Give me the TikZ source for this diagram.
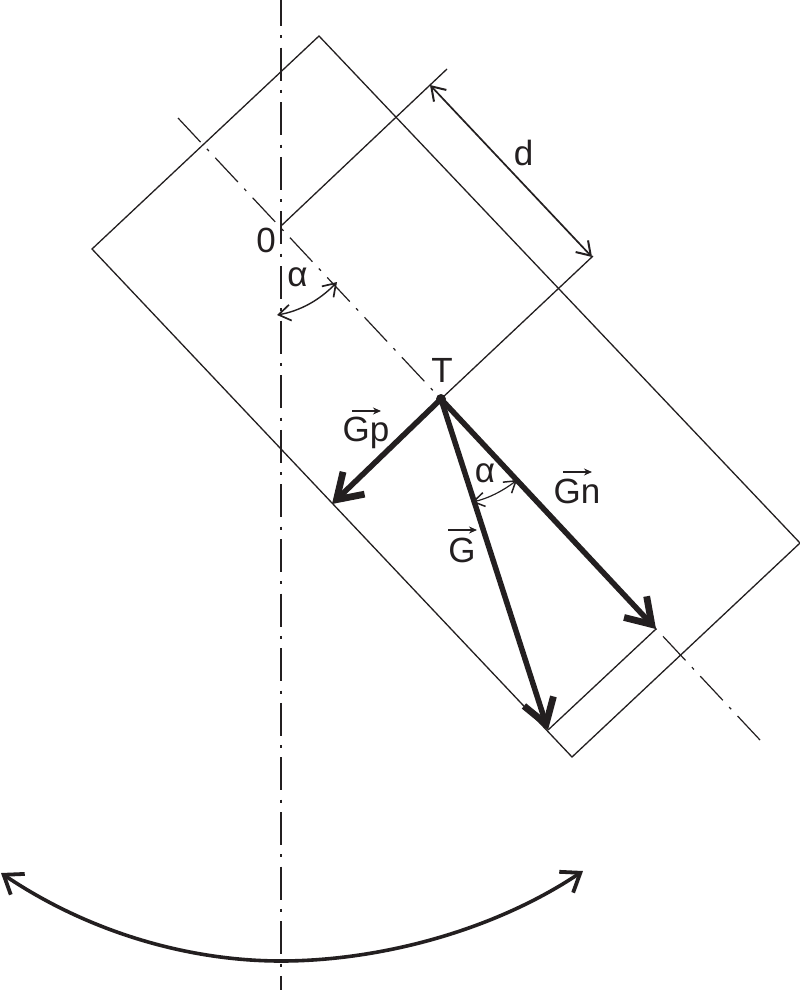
\documentclass[tikz,border=0pt]{standalone}
\usepackage{fontspec}
\setmainfont{Liberation Sans}
\usetikzlibrary{arrows.meta}
\definecolor{ink}{RGB}{35,31,32}
\tikzset{
  thin line/.style={draw=ink,line width=1.3pt},
  axis line/.style={draw=ink,line width=1.2pt,dash pattern=on 33pt off 9.3pt on 3pt off 9.3pt},
  dim arrow/.style={draw=ink,line width=1.7pt,arrows={Straight Barb[length=13pt,width=17pt,line width=2pt]-Straight Barb[length=13pt,width=17pt,line width=2pt]}},
  force/.style={draw=ink,line width=5.5pt,arrows={-Straight Barb[length=24pt,width=31pt,line width=6.8pt]}},
  swing/.style={draw=ink,line width=3.6pt,arrows={Straight Barb[length=17pt,width=25pt,line width=3.8pt]-Straight Barb[length=17pt,width=25pt,line width=3.8pt]}},
  vec/.style={draw=ink,line width=1.1pt,arrows={-Stealth[length=8pt,width=7pt]}},
  lab/.style={text=ink,inner sep=0pt,anchor=base,font=\fontsize{35}{35}\selectfont}
}
\begin{document}
\begin{tikzpicture}[x=1pt,y=-1pt]
\useasboundingbox (0,0) rectangle (800,990);
\fill[white] (0,0) rectangle (800,990);
% points
\coordinate (top) at (319,36);
\coordinate (left) at (92,249);
\coordinate (right) at (800,543);
\coordinate (bottom) at (572,757);
\coordinate (O) at (281,226);
\coordinate (Oext) at (447,69);
\coordinate (T) at (441,399);
\coordinate (Text) at (593,256);
\coordinate (tipGp) at (332,504);
\coordinate (tipGn) at (656,629);
\coordinate (tipG) at (548,730);
\coordinate (axisA) at (281,0);
\coordinate (axisB) at (281,990);
\coordinate (axisC) at (178,118);
\coordinate (axisD) at (760,740);
\coordinate (dA) at (430,85);
\coordinate (dB) at (592,257);
\coordinate (swL) at (1,873);
\coordinate (swM) at (281,961);
\coordinate (swR) at (583,871);
% rectangle and construction lines
\draw[thin line,line join=miter] (top) -- (right) -- (bottom) -- (left) -- cycle;
\draw[thin line] (O) -- (Oext);
\draw[thin line] (T) -- (Text);
\draw[thin line] (tipGn) -- (tipG);
% axes
\draw[axis line,dash phase=7pt] (axisA) -- (axisB);
\draw[axis line] (axisC) -- (axisD);
% dimension
\draw[dim arrow] (dA) -- (dB);
% angle arcs
\coordinate (a1) at (277,315);
\coordinate (a2) at (337,282);
\draw[dim arrow,line width=1.4pt,arrows={Straight Barb[length=12pt,width=16pt,line width=1.7pt]-Straight Barb[length=12pt,width=16pt,line width=1.7pt]}] (a1) .. controls (300,311) and (320,300) .. (a2);
\coordinate (b1) at (472,502);
\coordinate (b2) at (517,480);
\draw[dim arrow,line width=1.2pt,arrows={Straight Barb[length=11pt,width=14pt,line width=1.5pt]-Straight Barb[length=11pt,width=14pt,line width=1.5pt]}] (b1) .. controls (487,499) and (503,491) .. (b2);
% forces
\draw[force] (T) -- (tipGp);
\draw[force] (T) -- (tipGn);
\draw[force] (T) -- (tipG);
\fill[ink] (T) circle (5pt);
% swing
\draw[swing] (swL) .. controls (90,933) and (190,961) .. (swM) .. controls (375,961) and (490,933) .. (swR);
% labels
\node[lab] (l0) at (266,252) {0};
\node[lab] (la1) at (297.5,286) {α};
\node[lab] (ld) at (523.5,165) {d};
\node[lab] (lT) at (442,382) {T};
\node[lab] (lGp) at (366,441) {Gp};
\node[lab] (lG) at (462,562) {G};
\node[lab] (lGn) at (577,503) {Gn};
\node[lab] (la2) at (485,482) {α};
% vector bars
\coordinate (vGpA) at (352,411); \coordinate (vGpB) at (381,411);
\coordinate (vGA) at (448,530); \coordinate (vGB) at (477,530);
\coordinate (vGnA) at (563,472); \coordinate (vGnB) at (592,472);
\draw[vec] (vGpA) -- (vGpB);
\draw[vec] (vGA) -- (vGB);
\draw[vec] (vGnA) -- (vGnB);
\end{tikzpicture}
\end{document}
